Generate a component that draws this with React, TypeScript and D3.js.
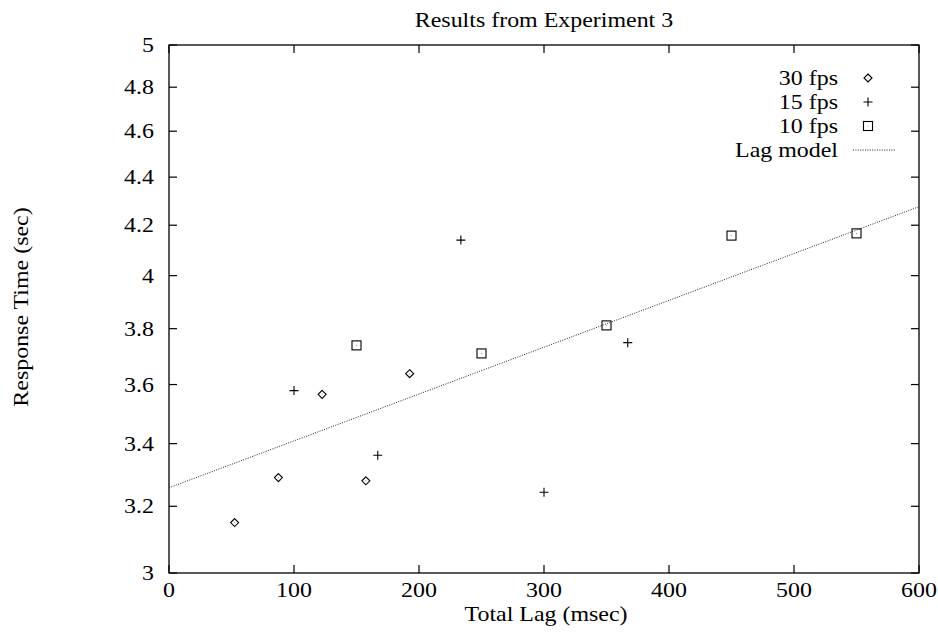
import React, { useEffect, useRef } from 'react';
import * as d3 from 'd3';

// 30 fps (diamonds)
const fps30Lag = [52.5, 87.5, 122.5, 157.5, 192.5];
const fps30Time = [3.15, 3.29, 3.566, 3.28, 3.638];
// 15 fps (plus)
const fps15Lag = [100, 167, 233.5, 300, 367];
const fps15Time = [3.579, 3.362, 4.14, 3.244, 3.749];
// 10 fps (squares)
const fps10Lag = [150, 250, 350, 450, 550];
const fps10Time = [3.739, 3.71, 3.812, 4.158, 4.167];
// lag model endpoints
const modelLag = [0, 600];
const modelTime = [3.258, 4.276];

const xTicks = [0, 100, 200, 300, 400, 500, 600];
const yTicks = [3, 3.2, 3.4, 3.6, 3.8, 4, 4.2, 4.4, 4.6, 4.8, 5];
const yTickLabels = ['3', '3.2', '3.4', '3.6', '3.8', '4', '4.2', '4.4', '4.6', '4.8', '5'];

const legendNames = ['30 fps', '15 fps', '10 fps', 'Lag model'];

const FONT = '"Liberation Serif", "Times New Roman", serif';

const drawMarker = (g, kind, cx, cy) => {
  if (kind === 'diamond') {
    const r = 4;
    g.append('path')
      .attr('d', `M${cx},${cy - r}L${cx + r},${cy}L${cx},${cy + r}L${cx - r},${cy}Z`)
      .attr('fill', 'none').attr('stroke', '#000').attr('stroke-width', 1.1);
    g.append('circle').attr('cx', cx).attr('cy', cy).attr('r', 0.5).attr('fill', '#777');
  } else if (kind === 'plus') {
    const r = 4.5;
    g.append('path')
      .attr('d', `M${cx - r},${cy}H${cx + r}M${cx},${cy - r}V${cy + r}`)
      .attr('stroke', '#000').attr('stroke-width', 1.1);
  } else {
    const r = 4.5;
    g.append('rect')
      .attr('x', cx - r).attr('y', cy - r).attr('width', 2 * r).attr('height', 2 * r)
      .attr('fill', 'none').attr('stroke', '#000').attr('stroke-width', 1.1);
    g.append('circle').attr('cx', cx).attr('cy', cy).attr('r', 0.5).attr('fill', '#777');
  }
};

const App = () => {
  const svgRef = useRef(null);

  useEffect(() => {
    const svg = d3.select(svgRef.current);
    svg.selectAll('*').remove();

    const left = 169, right = 919, top = 45, bottom = 573;
    const x = d3.scaleLinear().domain([0, 600]).range([left, right]);
    const y = d3.scaleLog().domain([3, 5]).range([bottom, top]);
    const tick = 8;

    const g = svg.append('g');

    // the reference type is a bit wider than Liberation Serif, so stretch it
    const label = (tx, ty, str, anchor, rot = 0) =>
      g.append('text')
        .attr('transform', `translate(${tx},${ty}) rotate(${rot}) scale(1.14,1)`)
        .attr('text-anchor', anchor)
        .attr('font-family', FONT).attr('font-size', 21).attr('fill', '#000')
        .text(str);

    // ticks on all four sides
    xTicks.forEach(t => {
      g.append('line').attr('x1', x(t)).attr('x2', x(t)).attr('y1', bottom).attr('y2', bottom - tick)
        .attr('stroke', '#000').attr('stroke-width', 1.2);
      g.append('line').attr('x1', x(t)).attr('x2', x(t)).attr('y1', top).attr('y2', top + tick)
        .attr('stroke', '#000').attr('stroke-width', 1.2);
      label(x(t), bottom + 24, t, 'middle');
    });
    yTicks.forEach((t, i) => {
      g.append('line').attr('x1', left).attr('x2', left + tick).attr('y1', y(t)).attr('y2', y(t))
        .attr('stroke', '#000').attr('stroke-width', 1.2);
      g.append('line').attr('x1', right).attr('x2', right - tick).attr('y1', y(t)).attr('y2', y(t))
        .attr('stroke', '#000').attr('stroke-width', 1.2);
      label(left - 15, y(t) + 7, yTickLabels[i], 'end');
    });

    // frame
    g.append('rect').attr('x', left).attr('y', top).attr('width', right - left).attr('height', bottom - top)
      .attr('fill', 'none').attr('stroke', '#000').attr('stroke-width', 1.3);

    // lag model
    const modelLine = d3.line().x(d => x(d[0])).y(d => y(d[1]));
    g.append('path')
      .attr('d', modelLine(modelLag.map((l, i) => [l, modelTime[i]])))
      .attr('fill', 'none').attr('stroke', '#222').attr('stroke-width', 1)
      .attr('stroke-dasharray', '1,1.4');

    // points
    fps30Lag.forEach((l, i) => drawMarker(g, 'diamond', x(l), y(fps30Time[i])));
    fps15Lag.forEach((l, i) => drawMarker(g, 'plus', x(l), y(fps15Time[i])));
    fps10Lag.forEach((l, i) => drawMarker(g, 'square', x(l), y(fps10Time[i])));

    // legend
    const kinds = ['diamond', 'plus', 'square', 'line'];
    legendNames.forEach((name, i) => {
      const ly = 78 + i * 24;
      label(838, ly + 7, name, 'end');
      if (kinds[i] === 'line') {
        g.append('line').attr('x1', 853).attr('x2', 895).attr('y1', ly).attr('y2', ly)
          .attr('stroke', '#222').attr('stroke-width', 1).attr('stroke-dasharray', '1,1.4');
      } else {
        drawMarker(g, kinds[i], 868, ly);
      }
    });

    // titles
    label(544, 27, 'Results from Experiment 3', 'middle');
    label(546, 621, 'Total Lag (msec)', 'middle');
    label(28, 307, 'Response Time (sec)', 'middle', -90);
  }, []);

  return (
    <svg ref={svgRef} width={938} height={635}
      style={{ position: 'absolute', left: 0, top: 0, background: '#fff' }} />
  );
};

export default App;
